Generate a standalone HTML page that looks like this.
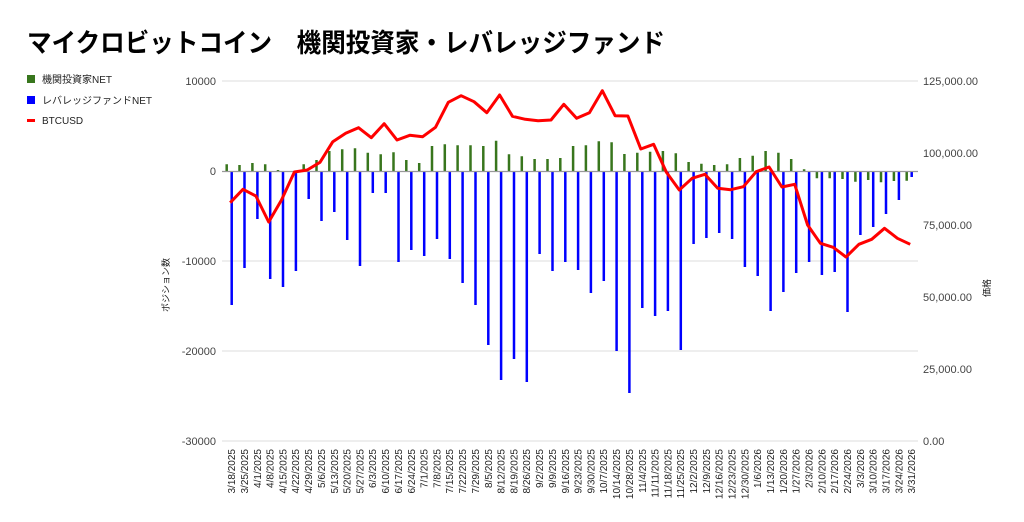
<!DOCTYPE html>
<html><head><meta charset="utf-8"><style>
body{margin:0;background:#fff;}
svg{display:block;font-family:"Liberation Sans","Noto Sans CJK JP",sans-serif;}
</style></head><body>
<svg width="1024" height="522" viewBox="0 0 1024 522">
<text x="27" y="52" font-size="26" font-weight="bold" fill="#000" textLength="638" lengthAdjust="spacingAndGlyphs">マイクロビットコイン　機関投資家・レバレッジファンド</text>
<rect x="27" y="75" width="8" height="8" fill="#38761d"/>
<text x="42" y="83" font-size="10" fill="#222">機関投資家NET</text>
<rect x="27" y="96" width="8" height="8" fill="#0000ff"/>
<text x="42" y="104" font-size="10" fill="#222">レバレッジファンドNET</text>
<rect x="27" y="119" width="8" height="3" fill="#ff0000"/>
<text x="42" y="124" font-size="10" fill="#222">BTCUSD</text>
<g stroke="#ddd" stroke-width="1">
<line x1="222" y1="81" x2="918" y2="81"/><line x1="222" y1="261" x2="918" y2="261"/><line x1="222" y1="351" x2="918" y2="351"/><line x1="222" y1="441" x2="918" y2="441"/>
</g>
<g font-size="11" fill="#444" text-anchor="end">
<text x="216" y="85">10000</text><text x="216" y="175">0</text><text x="216" y="265">-10000</text><text x="216" y="355">-20000</text><text x="216" y="445">-30000</text>
</g>
<g font-size="11" fill="#444">
<text x="923" y="85">125,000.00</text><text x="923" y="157">100,000.00</text><text x="923" y="229">75,000.00</text><text x="923" y="301">50,000.00</text><text x="923" y="373">25,000.00</text><text x="923" y="445">0.00</text>
</g>
<text transform="translate(169,285) rotate(-90)" font-size="9" fill="#222" text-anchor="middle">ポジション数</text>
<text transform="translate(990,288) rotate(-90)" font-size="9" fill="#222" text-anchor="middle">価格</text>
<path stroke="#38761d" stroke-width="2.5" fill="none" d="M226.7 171.5V164.3M239.5 171.5V165M252.4 171.5V163M265.2 171.5V164.3M278 171.5V170M303.7 171.5V164.3M316.5 171.5V160M329.3 171.5V151M342.2 171.5V149.3M355 171.5V148.3M367.8 171.5V152.7M380.7 171.5V154.3M393.5 171.5V152.3M406.3 171.5V160M419.2 171.5V163M432 171.5V146M444.8 171.5V144.3M457.6 171.5V145.3M470.5 171.5V145.3M483.3 171.5V146M496.1 171.5V140.7M509 171.5V154.3M521.8 171.5V156.3M534.6 171.5V159M547.5 171.5V159M560.3 171.5V158M573.1 171.5V146M585.9 171.5V145.3M598.8 171.5V141.3M611.6 171.5V142.3M624.4 171.5V154M637.3 171.5V152.7M650.1 171.5V151.7M662.9 171.5V151M675.8 171.5V153.3M688.6 171.5V162M701.4 171.5V163.7M714.2 171.5V165M727.1 171.5V164.3M739.9 171.5V158M752.7 171.5V155.7M765.6 171.5V151M778.4 171.5V152.7M791.2 171.5V159M804.1 171.5V169.3M816.9 171.5V178.3M829.7 171.5V178.3M842.5 171.5V179M855.4 171.5V181.7M868.2 171.5V180M881 171.5V182.3M893.9 171.5V181M906.7 171.5V180.7"/>
<path stroke="#0000ff" stroke-width="2.5" fill="none" d="M231.7 171.5V305M244.5 171.5V268M257.4 171.5V219M270.2 171.5V279M283 171.5V287M295.9 171.5V271M308.7 171.5V199M321.5 171.5V221M334.3 171.5V212M347.2 171.5V240M360 171.5V266M372.8 171.5V193M385.7 171.5V193M398.5 171.5V262M411.3 171.5V250M424.2 171.5V256M437 171.5V239M449.8 171.5V259M462.6 171.5V283M475.5 171.5V305M488.3 171.5V345M501.1 171.5V380M514 171.5V359M526.8 171.5V382M539.6 171.5V254M552.5 171.5V271M565.3 171.5V262M578.1 171.5V270M590.9 171.5V293M603.8 171.5V281M616.6 171.5V351M629.4 171.5V393M642.3 171.5V308M655.1 171.5V316M667.9 171.5V311M680.8 171.5V350M693.6 171.5V244M706.4 171.5V238M719.2 171.5V233M732.1 171.5V239M744.9 171.5V267M757.7 171.5V276M770.6 171.5V311M783.4 171.5V292M796.2 171.5V273M809.1 171.5V262M821.9 171.5V275M834.7 171.5V272M847.5 171.5V312M860.4 171.5V235M873.2 171.5V227M886 171.5V214M898.9 171.5V200M911.7 171.5V177"/>
<line x1="222" y1="171.5" x2="918" y2="171.5" stroke="#999" stroke-width="1.2"/>
<polyline fill="none" stroke="#ff0000" stroke-width="3" stroke-linejoin="round" points="230.2,202.7 243,189.3 255.9,196 268.7,222 281.5,200 294.4,172 307.2,170 320,162.3 332.8,141.7 345.7,133.3 358.5,127.7 371.3,137.7 384.2,123.7 397,140 409.8,135.3 422.7,136.7 435.5,127.3 448.3,102.3 461.1,95.7 474,101.7 486.8,112.7 499.6,95 512.5,116.3 525.3,119.3 538.1,120.7 551,120 563.8,104.3 576.6,118.3 589.4,112.7 602.3,90.7 615.1,115.7 627.9,116 640.8,149 653.6,144.3 666.4,172.3 679.3,190 692.1,178.3 704.9,174.3 717.7,188.3 730.6,189.7 743.4,186.7 756.2,171.7 769.1,167 781.9,187 794.7,184.3 807.6,225 820.4,243.3 833.2,247.3 846,257 858.9,244.3 871.7,239.3 884.5,228.3 897.4,238.3 910.2,244.3"/>
<g font-size="10" fill="#222" text-anchor="end">
<text transform="translate(235,449) rotate(-90)">3/18/2025</text>
<text transform="translate(248,449) rotate(-90)">3/25/2025</text>
<text transform="translate(261,449) rotate(-90)">4/1/2025</text>
<text transform="translate(273.5,449) rotate(-90)">4/8/2025</text>
<text transform="translate(286.5,449) rotate(-90)">4/15/2025</text>
<text transform="translate(299,449) rotate(-90)">4/22/2025</text>
<text transform="translate(312,449) rotate(-90)">4/29/2025</text>
<text transform="translate(325,449) rotate(-90)">5/6/2025</text>
<text transform="translate(338,449) rotate(-90)">5/13/2025</text>
<text transform="translate(350.5,449) rotate(-90)">5/20/2025</text>
<text transform="translate(363.5,449) rotate(-90)">5/27/2025</text>
<text transform="translate(376,449) rotate(-90)">6/3/2025</text>
<text transform="translate(389,449) rotate(-90)">6/10/2025</text>
<text transform="translate(402,449) rotate(-90)">6/17/2025</text>
<text transform="translate(415,449) rotate(-90)">6/24/2025</text>
<text transform="translate(427.5,449) rotate(-90)">7/1/2025</text>
<text transform="translate(440.5,449) rotate(-90)">7/8/2025</text>
<text transform="translate(453,449) rotate(-90)">7/15/2025</text>
<text transform="translate(466,449) rotate(-90)">7/22/2025</text>
<text transform="translate(479,449) rotate(-90)">7/29/2025</text>
<text transform="translate(492,449) rotate(-90)">8/5/2025</text>
<text transform="translate(504.5,449) rotate(-90)">8/12/2025</text>
<text transform="translate(517.5,449) rotate(-90)">8/19/2025</text>
<text transform="translate(530,449) rotate(-90)">8/26/2025</text>
<text transform="translate(543,449) rotate(-90)">9/2/2025</text>
<text transform="translate(556,449) rotate(-90)">9/9/2025</text>
<text transform="translate(569,449) rotate(-90)">9/16/2025</text>
<text transform="translate(581.5,449) rotate(-90)">9/23/2025</text>
<text transform="translate(594.5,449) rotate(-90)">9/30/2025</text>
<text transform="translate(607,449) rotate(-90)">10/7/2025</text>
<text transform="translate(620,449) rotate(-90)">10/14/2025</text>
<text transform="translate(633,449) rotate(-90)">10/28/2025</text>
<text transform="translate(646,449) rotate(-90)">11/4/2025</text>
<text transform="translate(658.5,449) rotate(-90)">11/11/2025</text>
<text transform="translate(671.5,449) rotate(-90)">11/18/2025</text>
<text transform="translate(684,449) rotate(-90)">11/25/2025</text>
<text transform="translate(697,449) rotate(-90)">12/2/2025</text>
<text transform="translate(710,449) rotate(-90)">12/9/2025</text>
<text transform="translate(722.5,449) rotate(-90)">12/16/2025</text>
<text transform="translate(735.5,449) rotate(-90)">12/23/2025</text>
<text transform="translate(748.5,449) rotate(-90)">12/30/2025</text>
<text transform="translate(761,449) rotate(-90)">1/6/2026</text>
<text transform="translate(774,449) rotate(-90)">1/13/2026</text>
<text transform="translate(787,449) rotate(-90)">1/20/2026</text>
<text transform="translate(799.5,449) rotate(-90)">1/27/2026</text>
<text transform="translate(812.5,449) rotate(-90)">2/3/2026</text>
<text transform="translate(825.5,449) rotate(-90)">2/10/2026</text>
<text transform="translate(838,449) rotate(-90)">2/17/2026</text>
<text transform="translate(851,449) rotate(-90)">2/24/2026</text>
<text transform="translate(864,449) rotate(-90)">3/3/2026</text>
<text transform="translate(876.5,449) rotate(-90)">3/10/2026</text>
<text transform="translate(889.5,449) rotate(-90)">3/17/2026</text>
<text transform="translate(902.5,449) rotate(-90)">3/24/2026</text>
<text transform="translate(915,449) rotate(-90)">3/31/2026</text>
</g>
</svg>
</body></html>
